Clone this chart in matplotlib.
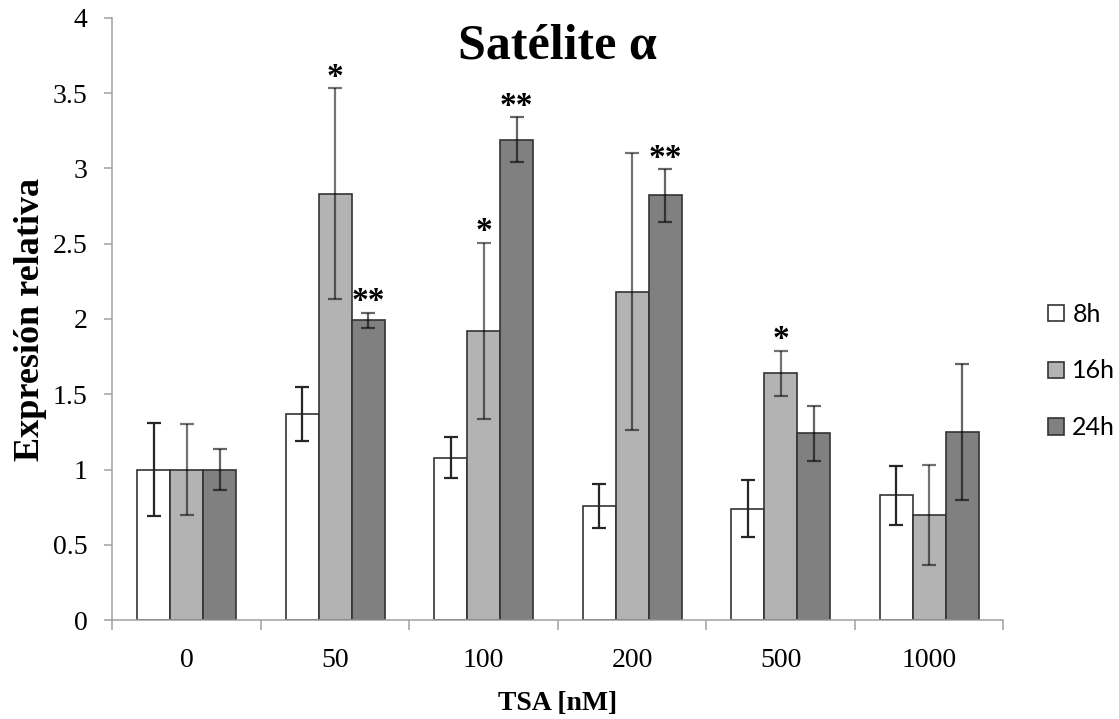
import matplotlib as mpl
mpl.use("Agg")
import matplotlib.pyplot as plt
import numpy as np

mpl.rcParams["font.family"] = "Liberation Serif"

# data
doses = ["0", "50", "100", "200", "500", "1000"]
series = ["8h", "16h", "24h"]
vals_8h = [1.00, 1.37, 1.08, 0.76, 0.74, 0.83]
vals_16h = [1.00, 2.83, 1.92, 2.18, 1.64, 0.70]
vals_24h = [1.00, 1.99, 3.19, 2.82, 1.24, 1.25]
err_8h = [0.31, 0.18, 0.135, 0.145, 0.19, 0.195]
err_16h = [0.30, 0.70, 0.585, 0.92, 0.15, 0.33]
err_24h = [0.135, 0.05, 0.15, 0.175, 0.185, 0.45]
# significance marks: (series index, dose index, text)
stars = [(1, 1, "*"), (2, 1, "**"), (1, 2, "*"), (2, 2, "**"),
         (2, 3, "**"), (1, 4, "*")]

values = [vals_8h, vals_16h, vals_24h]
errors = [err_8h, err_16h, err_24h]
colors = ["#ffffff", "#b3b3b3", "#808080"]
err_colors = [(0.15, 0.15, 0.15, 1.0), (0, 0, 0, 0.55), (0, 0, 0, 0.6)]

fig = plt.figure(figsize=(11.19, 7.19), dpi=100)
ax = fig.add_axes([0.1004, 0.1373, 0.7963, 0.8381])

x = np.arange(len(doses))
w = 0.222
for i in range(3):
    pos = x + (i - 1) * w
    ax.bar(pos, values[i], width=w, color=colors[i], edgecolor="#333333",
           linewidth=1.2, label=series[i], zorder=2)
    ax.errorbar(pos, values[i], yerr=errors[i], fmt="none",
                ecolor=err_colors[i], elinewidth=1.6, capsize=5.3,
                capthick=1.6, zorder=3)

for si, di, txt in stars:
    top = values[si][di] + errors[si][di]
    ax.text(x[di] + (si - 1) * w, top - 0.03, txt, ha="center", va="bottom",
            fontsize=24, fontweight="bold", color="black")

ax.set_xlim(-0.5, len(doses) - 0.5)
ax.set_ylim(0, 4)
ax.set_yticks(np.arange(0, 4.01, 0.5))
ax.set_yticklabels(["0", "0.5", "1", "1.5", "2", "2.5", "3", "3.5", "4"])
ax.set_xticks(x)
ax.set_xticklabels(doses)
ax.set_xticks(np.arange(-0.5, len(doses), 1.0), minor=True)
ax.tick_params(axis="x", which="major", length=0, pad=20, labelsize=20)
ax.tick_params(axis="x", which="minor", length=7, width=1.1,
               color="#a0a0a0", direction="out")
ax.tick_params(axis="y", length=6, width=1.1, color="#a0a0a0", pad=12,
               labelsize=20)

for side in ["top", "right"]:
    ax.spines[side].set_visible(False)
for side in ["left", "bottom"]:
    ax.spines[side].set_color("#a0a0a0")
    ax.spines[side].set_linewidth(1.1)

ax.set_ylabel("Expresión relativa", fontsize=26, fontweight="bold")
ax.yaxis.set_label_coords(-0.073, 0.5)
ax.set_xlabel("TSA [nM]", fontsize=20, fontweight="bold")
ax.xaxis.set_label_coords(0.5, -0.117)
ax.text(0.499, 0.952, "Satélite α", transform=ax.transAxes, ha="center",
        va="center", fontsize=36, fontweight="bold")

leg = ax.legend(loc="center left", bbox_to_anchor=(1048 / 1119, 1 - 371 / 719),
                bbox_transform=fig.transFigure, frameon=False, borderpad=0,
                borderaxespad=0, handlelength=0.62, handleheight=0.62,
                handletextpad=0.35, labelspacing=1.35,
                prop={"family": "Lato", "size": 18})

fig.savefig("out.png", dpi=100)
plt.close()
